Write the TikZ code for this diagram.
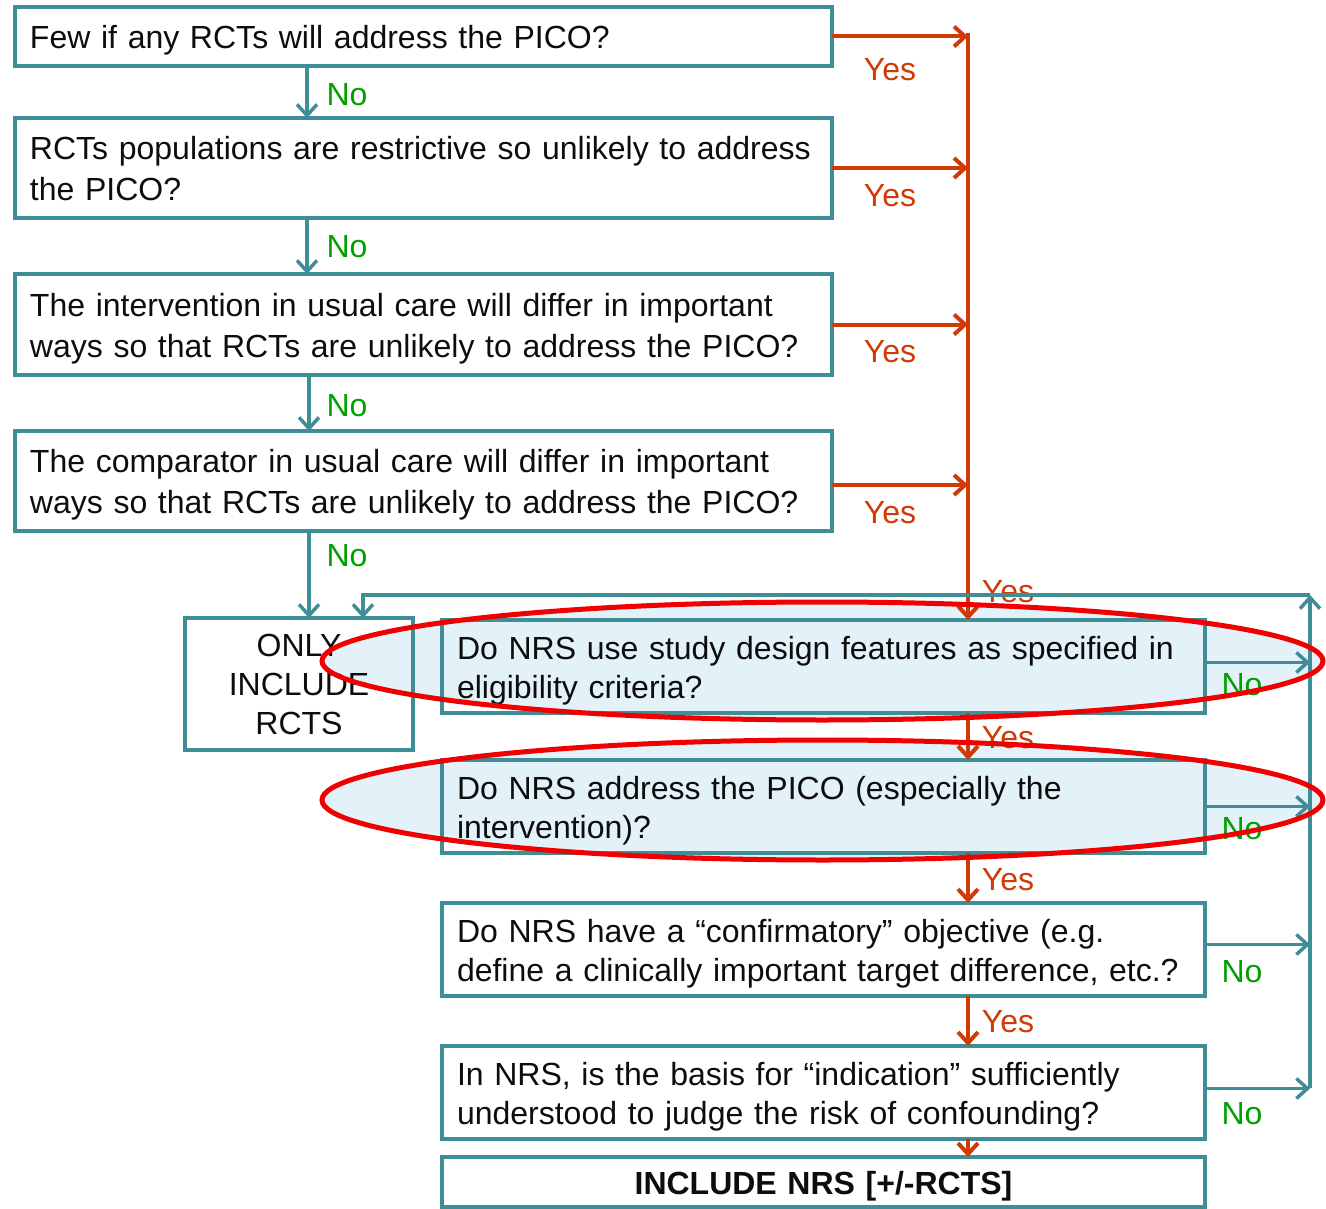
\documentclass[tikz,border=0pt]{standalone}
\usepackage{fontspec}
\setmainfont{Liberation Sans}
\usetikzlibrary{arrows.meta}
\definecolor{tealc}{HTML}{3F8E97}
\definecolor{redarr}{HTML}{CF3A06}
\definecolor{greenno}{HTML}{00A000}
\definecolor{lightb}{HTML}{E3F1F9}
\definecolor{ellred}{HTML}{F00000}
\definecolor{txt}{HTML}{0D0D0D}
\begin{document}
\begin{tikzpicture}[x=1pt,y=-1pt,
  qbox/.style={draw=tealc,line width=3.5pt,rectangle,inner xsep=15pt,inner ysep=0pt,outer sep=0pt,
    align=left,anchor=north west,text=txt,font=\fontsize{32}{41}\selectfont},
  lowtext/.style={execute at begin node={\rule{0pt}{31.5pt}},execute at end node={\rule[-7pt]{0pt}{7pt}}},
  nbox/.style={qbox,lowtext,font=\fontsize{32}{39}\selectfont,text width=733pt,minimum height=93pt},
  tarr/.style={draw=tealc,line width=3.5pt,-{Straight Barb[length=11pt,width=20pt]}},
  rarr/.style={draw=redarr,line width=4pt,-{Straight Barb[length=11pt,width=20pt]}},
  yeslab/.style={text=redarr,font=\fontsize{32}{38}\selectfont,inner sep=0pt},
  nolab/.style={text=greenno,font=\fontsize{32}{38}\selectfont,inner sep=0pt},
  ellline/.style={draw=ellred,line width=5pt}]
\useasboundingbox (0,0) rectangle (1326,1209);

% ellipse fills (behind)
\fill[lightb] (822.5,661) ellipse [x radius=500.5pt, y radius=59pt];
\fill[lightb] (822.5,800) ellipse [x radius=500.5pt, y radius=60pt];

% helper coordinates
\coordinate (cA) at (307,0);
\coordinate (cB) at (309,0);
\coordinate (c363) at (363,0);
\coordinate (rtop) at (968,33);
\coordinate (tr) at (1310,595);
\coordinate (tb) at (1310,1088);

% left column boxes
\node[qbox,lowtext,text width=787pt,minimum height=59pt] (q1) at (15,7) {Few if any RCTs will address the PICO?};
\node[qbox,lowtext,text width=787pt,minimum height=100pt] (q2) at (15,118) {RCTs populations are restrictive so unlikely to address\\the PICO?};
\node[qbox,lowtext,text width=787pt,minimum height=101pt] (q3) at (15,274) {The intervention in usual care will differ in important\\ways so that RCTs are unlikely to address the PICO?};
\node[qbox,lowtext,text width=787pt,minimum height=100pt] (q4) at (15,431) {The comparator in usual care will differ in important\\ways so that RCTs are unlikely to address the PICO?};
\node[qbox,align=center,inner xsep=0pt,minimum width=228pt,minimum height=132pt,font=\fontsize{32}{39}\selectfont] (only) at (185,618) {ONLY\\INCLUDE\\RCTS};

% NRS boxes
\node[nbox] (n1) at (442,620) {Do NRS use study design features as specified in\\eligibility criteria?};
\node[nbox] (n2) at (442,760) {Do NRS address the PICO (especially the\\intervention)?};
\node[nbox] (n3) at (442,903) {Do NRS have a “confirmatory” objective (e.g.\\define a clinically important target difference, etc.?};
\node[nbox] (n4) at (442,1046) {In NRS, is the basis for “indication” sufficiently\\understood to judge the risk of confounding?};
\node[nbox,align=center,minimum height=50pt,font=\bfseries\fontsize{32}{39}\selectfont] (inc) at (442,1157) {INCLUDE NRS [+/-RCTS]};

% No arrows on the left
\draw[tarr] (q1.south -| cA) -- (q2.north -| cA);
\draw[tarr] (q2.south -| cA) -- (q3.north -| cA);
\draw[tarr] (q3.south -| cB) -- (q4.north -| cB);
\draw[tarr] (q4.south -| cB) -- (only.north -| cB);
\node[nolab] (no1) at (347,95) {No};
\node[nolab] (no2) at (347,247) {No};
\node[nolab] (no3) at (347,406) {No};
\node[nolab] (no4) at (347,556) {No};

% Yes arrows on the right
\draw[rarr] (q1.east) -- (q1.east -| rtop);
\draw[rarr] (q2.east) -- (q2.east -| rtop);
\draw[rarr] (q3.east) -- (q3.east -| rtop);
\draw[rarr] ([yshift=-4pt]q4.east) -- ([yshift=-4pt]q4.east -| rtop);
\draw[rarr] (rtop) -- (rtop |- n1.north);
\node[yeslab] (y1) at (890,70) {Yes};
\node[yeslab] (y2) at (890,196) {Yes};
\node[yeslab] (y3) at (890,352) {Yes};
\node[yeslab] (y4) at (890,513) {Yes};

% NRS yes arrows
\draw[rarr] (n1.south -| rtop) -- (n2.north -| rtop);
\draw[rarr] (n2.south -| rtop) -- (n3.north -| rtop);
\draw[rarr] (n3.south -| rtop) -- (n4.north -| rtop);
\draw[rarr] (n4.south -| rtop) -- (inc.north -| rtop);
\node[yeslab] (y5) at (1008,592) {Yes};
\node[yeslab] (y6) at (1008,738) {Yes};
\node[yeslab] (y7) at (1008,880) {Yes};
\node[yeslab] (y8) at (1008,1022) {Yes};

% NRS no arrows and return path
\draw[tarr] ([yshift=4pt]n1.east) -- ([yshift=4pt]n1.east -| tr);
\draw[tarr] (n2.east) -- (n2.east -| tr);
\draw[tarr] ([yshift=5pt]n3.east) -- ([yshift=5pt]n3.east -| tr);
\draw[tarr] ([yshift=4pt]n4.east) -- ([yshift=4pt]n4.east -| tr);
\draw[tarr] (tb) -- (tr);
\draw[tarr] (tr) -| (only.north -| c363);
\node[nolab] (no5) at (1242,685) {No};
\node[nolab] (no6) at (1242,829) {No};
\node[nolab] (no7) at (1242,972) {No};
\node[nolab] (no8) at (1242,1114) {No};

% red ellipse outlines on top
\draw[ellline] (822.5,661) ellipse [x radius=500.5pt, y radius=59pt];
\draw[ellline] (822.5,800) ellipse [x radius=500.5pt, y radius=60pt];
\end{tikzpicture}
\end{document}
